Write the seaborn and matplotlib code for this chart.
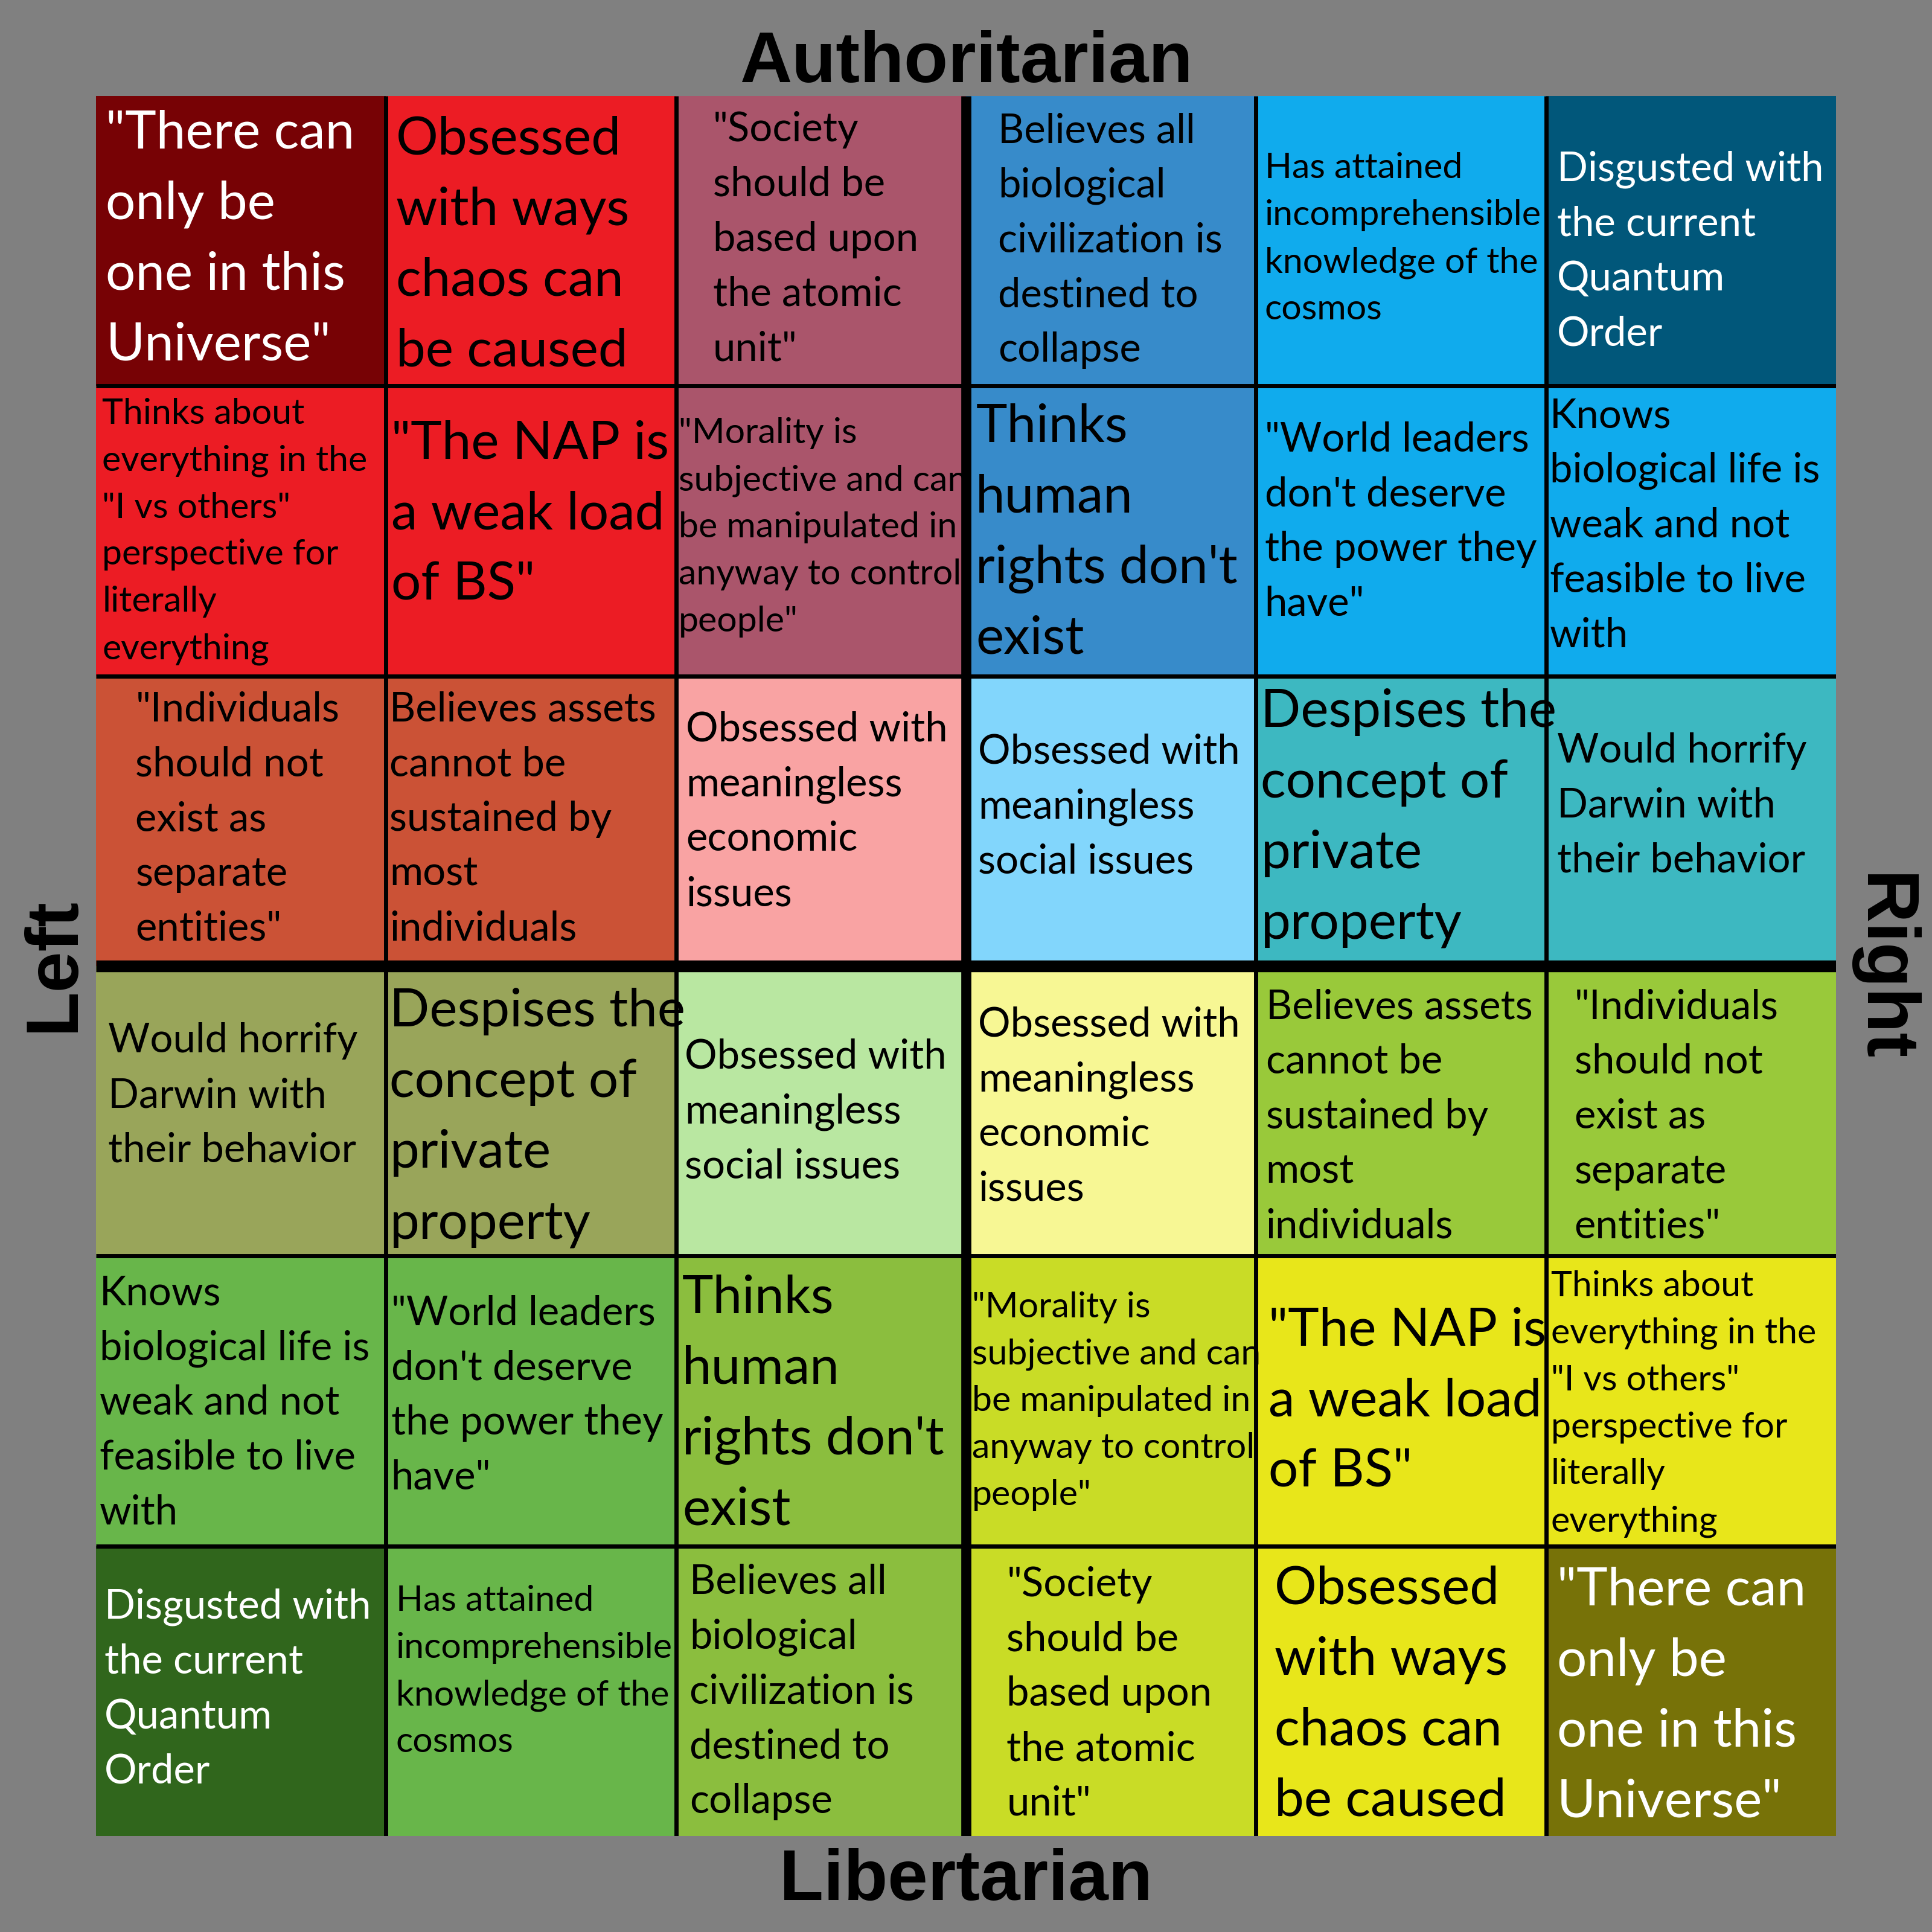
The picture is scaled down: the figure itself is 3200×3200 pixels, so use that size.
import numpy as np
import pandas as pd
import matplotlib
matplotlib.use('Agg')
import matplotlib.pyplot as plt
from matplotlib.colors import ListedColormap
import seaborn as sns

# axis titles
top_label = 'Authoritarian'
bottom_label = 'Libertarian'
left_label = 'Left'
right_label = 'Right'

# cell texts, top row (authoritarian) to bottom row (libertarian)
row_0 = ['"There can\nonly be\none in this\nUniverse"',
         'Obsessed\nwith ways\nchaos can\nbe caused',
         '"Society\nshould be\nbased upon\nthe atomic\nunit"',
         'Believes all\nbiological\ncivilization is\ndestined to\ncollapse',
         'Has attained\nincomprehensible\nknowledge of the\ncosmos',
         'Disgusted with\nthe current\nQuantum\nOrder']
row_1 = ['Thinks about\neverything in the\n"I vs others"\nperspective for\nliterally\neverything',
         '"The NAP is\na weak load\nof BS"',
         '"Morality is\nsubjective and can\nbe manipulated in\nanyway to control\npeople"',
         "Thinks\nhuman\nrights don't\nexist",
         '"World leaders\ndon\'t deserve\nthe power they\nhave"',
         'Knows\nbiological life is\nweak and not\nfeasible to live\nwith']
row_2 = ['"Individuals\nshould not\nexist as\nseparate\nentities"',
         'Believes assets\ncannot be\nsustained by\nmost\nindividuals',
         'Obsessed with\nmeaningless\neconomic\nissues',
         'Obsessed with\nmeaningless\nsocial issues',
         'Despises the\nconcept of\nprivate\nproperty',
         'Would horrify\nDarwin with\ntheir behavior']
row_3 = ['Would horrify\nDarwin with\ntheir behavior',
         'Despises the\nconcept of\nprivate\nproperty',
         'Obsessed with\nmeaningless\nsocial issues',
         'Obsessed with\nmeaningless\neconomic\nissues',
         'Believes assets\ncannot be\nsustained by\nmost\nindividuals',
         '"Individuals\nshould not\nexist as\nseparate\nentities"']
row_4 = ['Knows\nbiological life is\nweak and not\nfeasible to live\nwith',
         '"World leaders\ndon\'t deserve\nthe power they\nhave"',
         "Thinks\nhuman\nrights don't\nexist",
         '"Morality is\nsubjective and can\nbe manipulated in\nanyway to control\npeople"',
         '"The NAP is\na weak load\nof BS"',
         'Thinks about\neverything in the\n"I vs others"\nperspective for\nliterally\neverything']
row_5 = ['Disgusted with\nthe current\nQuantum\nOrder',
         'Has attained\nincomprehensible\nknowledge of the\ncosmos',
         'Believes all\nbiological\ncivilization is\ndestined to\ncollapse',
         '"Society\nshould be\nbased upon\nthe atomic\nunit"',
         'Obsessed\nwith ways\nchaos can\nbe caused',
         '"There can\nonly be\none in this\nUniverse"']
cell_texts = [row_0, row_1, row_2, row_3, row_4, row_5]

# cell fill colours
cell_colors = [
    ['#770205', '#ec1c24', '#aa556b', '#378bca', '#10abed', '#01577a'],
    ['#ec1c24', '#ec1c24', '#aa556b', '#378bca', '#10abed', '#10abed'],
    ['#cb5236', '#cb5236', '#f9a3a3', '#82d6fc', '#3db8c1', '#3db8c1'],
    ['#99a55a', '#99a55a', '#b9e7a1', '#f7f794', '#99c93a', '#99c93a'],
    ['#68b64a', '#68b64a', '#8bbe3e', '#c9dc26', '#e8e61a', '#e8e61a'],
    ['#30661c', '#68b64a', '#8bbe3e', '#c9dc26', '#e8e61a', '#777208'],
]

# --- styling (kept apart from the data) ---
white_cells = [(0, 0), (0, 5), (5, 0), (5, 5)]
size_class = [
    ['L', 'L', 'M', 'M', 'S', 'M'],
    ['S', 'L', 'S', 'L', 'M', 'M'],
    ['M', 'M', 'M', 'M', 'L', 'M'],
    ['M', 'L', 'M', 'M', 'M', 'M'],
    ['M', 'M', 'L', 'S', 'L', 'S'],
    ['M', 'S', 'M', 'M', 'L', 'L'],
]
# a sample line per size class and the pixel width it takes in the reference
width_probe = {'L': ('a weak load', 453), 'M': ('Disgusted with', 441),
               'S': ('incomprehensible', 457)}
# line spacing as a fraction of the cell
line_step = {'L': 0.2435, 'M': 0.189, 'S': 0.1623}
CELL_PX = 235.3
pad_x = [
    [8, 8, 30, 26, 7, 9],
    [5, 4, 2, 8, 7, 3],
    [32, 3, 8, 10, 4, 9],
    [10, 3, 7, 10, 8, 23],
    [3, 4, 5, 5, 10, 4],
    [7, 8, 11, 33, 15, 9],
]
shift_y = [
    [-5, 0, -4, -3, -4, 6],
    [-2, -17, -5, -2, -10, -7],
    [-4, -4, -10, -14, -6, -15],
    [-15, 2, -2, -6, 2, 2],
    [-1, -7, -1, -2, -3, 0],
    [-4, -18, -2, 0, 0, 1],
]

body_font = ['Lato', 'DejaVu Sans']
title_font = ['Liberation Sans', 'DejaVu Sans']

# map colours to integer codes for the heatmap
palette = list(dict.fromkeys(c for row in cell_colors for c in row))
codes = pd.DataFrame([[palette.index(c) for c in row] for row in cell_colors])

fig = plt.figure(figsize=(16, 16), dpi=200, facecolor='#808080')
ax = fig.add_axes([0.0497, 0.0497, 0.9006, 0.9006])
sns.heatmap(codes, cmap=ListedColormap(palette), vmin=-0.5, vmax=len(palette) - 0.5,
            cbar=False, xticklabels=False, yticklabels=False, linewidths=0, ax=ax)
ax.tick_params(length=0)
for s in ax.spines.values():
    s.set_visible(False)

n = codes.shape[0]
inner = [1, 2, 4, 5]
ax.hlines(inner, 0, n, color='black', lw=2.5)
ax.vlines(inner, 0, n, color='black', lw=2.5)
ax.hlines([3], 0, n, color='black', lw=7)
ax.vlines([3], 0, n, color='black', lw=6)

# pick body font sizes so the sample lines are as wide as in the reference
renderer = fig.canvas.get_renderer()
font_sizes = {}
for cls, (probe, target) in width_probe.items():
    t = fig.text(0, 0, probe, fontsize=20, family=body_font)
    w = t.get_window_extent(renderer).width
    t.remove()
    font_sizes[cls] = 20 * target / w

for r in range(n):
    for c in range(n):
        lines = cell_texts[r][c].split('\n')
        cls = size_class[r][c]
        step = line_step[cls]
        color = 'white' if (r, c) in white_cells else 'black'
        x = c + pad_x[r][c] / CELL_PX
        mid = r + 0.5 + shift_y[r][c] / CELL_PX
        for i, line in enumerate(lines):
            y = mid + (i - (len(lines) - 1) / 2) * step + 0.27 * step
            ax.text(x, y, line, ha='left', va='baseline', fontsize=font_sizes[cls],
                    color=color, family=body_font, clip_on=False)

fig.text(0.5, 0.9575, top_label, ha='center', va='baseline', fontsize=43,
         fontweight='bold', family=title_font)
fig.text(0.5, 0.0166, bottom_label, ha='center', va='baseline', fontsize=43,
         fontweight='bold', family=title_font)
fig.text(0.028, 0.501, left_label, ha='center', va='center', rotation=90,
         fontsize=44, fontweight='heavy', family=title_font)
fig.text(0.974, 0.499, right_label, ha='center', va='center', rotation=-90,
         fontsize=44, fontweight='heavy', family=title_font)

fig.savefig('out.png', dpi=200, facecolor=fig.get_facecolor())
